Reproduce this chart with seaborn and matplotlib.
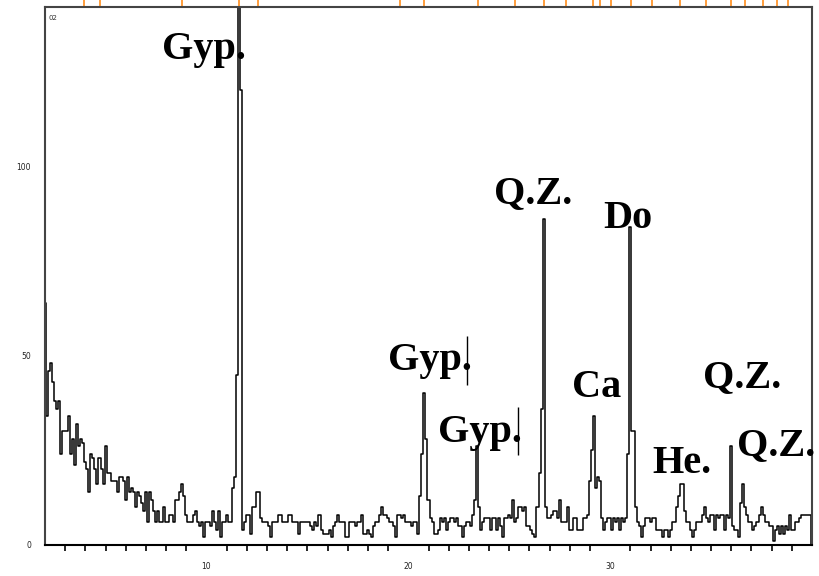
import numpy as np
import pandas as pd
import matplotlib
matplotlib.use("Agg")
import matplotlib.pyplot as plt
import matplotlib.transforms as mtransforms
import seaborn as sns

# ---- data ----
two_theta_start = 2.0
two_theta_step = 0.1
intensity = [
    64, 34, 46, 48, 43, 38, 36, 38, 24, 30,      # 2.0
    30, 30, 34, 24, 28, 21, 32, 26, 28, 27,      # 3.0
    22, 20, 14, 24, 23, 20, 16, 23, 20, 16,      # 4.0
    26, 19, 19, 17, 17, 17, 14, 18, 18, 17,      # 5.0
    12, 18, 14, 15, 14, 10, 14, 13, 11, 9,       # 6.0
    14, 6, 14, 12, 9, 6, 9, 6, 6, 10,            # 7.0
    6, 6, 8, 8, 6, 12, 12, 14, 16, 13,           # 8.0
    8, 6, 6, 6, 8, 9, 6, 5, 6, 2,                # 9.0
    6, 6, 5, 9, 6, 4, 9, 2, 6, 6,                # 10.0
    8, 6, 6, 15, 18, 45, 160, 120, 4, 6,         # 11.0
    8, 8, 3, 10, 10, 14, 14, 7, 6, 6,            # 12.0
    6, 5, 2, 6, 6, 6, 8, 8, 6, 6,                # 13.0
    6, 8, 8, 6, 6, 6, 3, 6, 6, 6,                # 14.0
    6, 6, 5, 4, 6, 5, 8, 4, 3, 3,                # 15.0
    3, 4, 2, 5, 6, 8, 6, 6, 6, 2,                # 16.0
    2, 6, 6, 6, 5, 6, 6, 8, 3, 3,                # 17.0
    4, 3, 2, 5, 6, 6, 8, 10, 8, 8,               # 18.0
    7, 6, 6, 5, 2, 8, 8, 7, 8, 6,                # 19.0
    6, 6, 5, 6, 6, 3, 13, 24, 40, 28,            # 20.0
    12, 7, 6, 3, 3, 4, 7, 6, 7, 4,               # 21.0
    6, 7, 7, 6, 7, 5, 5, 2, 5, 6,                # 22.0
    6, 5, 8, 12, 26, 10, 4, 6, 7, 7,             # 23.0
    7, 4, 7, 7, 4, 7, 5, 2, 7, 7,                # 24.0
    8, 7, 12, 6, 7, 10, 10, 9, 10, 5,            # 25.0
    5, 4, 3, 2, 10, 19, 36, 86, 10, 7,           # 26.0
    7, 8, 9, 9, 7, 12, 6, 6, 6, 10,              # 27.0
    4, 4, 7, 7, 4, 4, 4, 7, 7, 8,                # 28.0
    17, 25, 34, 15, 18, 17, 7, 4, 6, 7,          # 29.0
    7, 4, 7, 6, 7, 4, 7, 6, 7, 24,               # 30.0
    84, 30, 30, 10, 6, 5, 2, 5, 7, 7,            # 31.0
    6, 7, 7, 4, 4, 4, 2, 4, 4, 2,                # 32.0
    4, 6, 6, 10, 13, 16, 16, 9, 6, 6,            # 33.0
    4, 2, 4, 6, 6, 6, 8, 10, 7, 6,               # 34.0
    8, 8, 4, 8, 7, 8, 8, 4, 8, 7,                # 35.0
    26, 5, 4, 4, 2, 11, 16, 10, 8, 6,            # 36.0
    6, 4, 5, 6, 8, 10, 8, 6, 6, 5,               # 37.0
    5, 1, 4, 5, 3, 5, 3, 5, 4, 8,                # 38.0
    4, 4, 6, 6, 7, 8, 8, 8, 8, 8,                # 39.0
    0,                                           # 40.0
]
two_theta = np.round(two_theta_start + two_theta_step * np.arange(len(intensity)), 2)

# phase labels: text, x (2theta), y (counts)
label_texts = ["Gyp.", "Gyp.", "Gyp.", "Q.Z.", "Ca", "Do", "He.", "Q.Z.", "Q.Z."]
label_x = [7.78, 19.0, 21.49, 24.25, 28.1, 29.65, 32.07, 34.6, 36.3]
label_y = [128.4, 46.2, 27.3, 90.2, 39.1, 83.6, 18.9, 41.7, 23.7]

# small vertical marker strokes next to two Gyp. labels: x, y_low, y_high
stroke_x = [22.9, 25.44]
stroke_lo = [42.2, 23.7]
stroke_hi = [55.1, 36.4]

# reference-pattern positions (orange marks above the frame)
ref_positions = [3.92, 4.74, 8.80, 11.63, 12.54, 19.61, 20.77, 23.44, 25.28,
                 26.73, 27.80, 29.17, 29.50, 30.03, 31.02, 32.09, 33.47,
                 34.77, 35.99, 36.69, 37.59, 38.29, 38.83]

x_major = [10, 20, 30]
y_major = [0, 50, 100]

df = pd.DataFrame({"two_theta": two_theta, "intensity": intensity})

sns.set_style("white")
plt.rcParams["font.family"] = ["DejaVu Sans"]

fig = plt.figure(figsize=(8.2, 5.76), dpi=100)
ax = fig.add_axes([45 / 820, 31 / 576, (812 - 45) / 820, (545 - 7) / 576])

sns.lineplot(data=df, x="two_theta", y="intensity", ax=ax, color="black",
             linewidth=1.1, drawstyle="steps-mid", estimator=None, legend=False)

ax.set_xlim(2, 40)
ax.set_ylim(0, 142)
ax.set_xlabel("")
ax.set_ylabel("")

ax.set_xticks(x_major)
ax.set_xticks(np.arange(3, 40, 1), minor=True)
ax.set_yticks(y_major)
ax.tick_params(axis="both", which="major", direction="out", length=7,
               width=1.2, color="black", labelsize=5.5, labelcolor="#222222")
ax.tick_params(axis="x", which="major", pad=5)
ax.tick_params(axis="y", which="major", pad=3)
ax.tick_params(axis="x", which="minor", direction="out", length=4,
               width=1.2, color="black", bottom=True)

for side in ["left", "top", "right"]:
    ax.spines[side].set_color("#444444")
    ax.spines[side].set_linewidth(1.5)
ax.spines["bottom"].set_color("black")
ax.spines["bottom"].set_linewidth(1.5)

# orange reference marks above top frame
trans = mtransforms.blended_transform_factory(ax.transData, ax.transAxes)
ax.vlines(ref_positions, 1.0, 1.0 + 7 / 538, transform=trans, colors="#ff8c1a",
          linewidth=1.2, clip_on=False)

# phase labels
for t, lx, ly in zip(label_texts, label_x, label_y):
    ax.text(lx, ly, t, fontsize=29, fontweight="bold",
            family=["Liberation Serif", "DejaVu Serif"],
            ha="left", va="baseline", color="black", clip_on=False)

ax.vlines(stroke_x, stroke_lo, stroke_hi, colors="black", linewidth=1.0)

ax.text(0.004, 0.985, "02", transform=ax.transAxes, fontsize=5,
        va="top", ha="left", color="#333333")

fig.savefig("out.png", dpi=100)
